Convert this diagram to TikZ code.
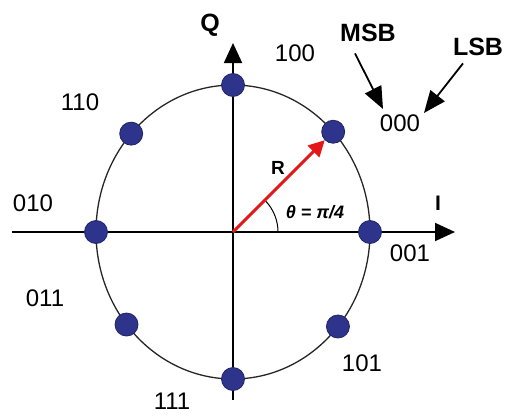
\documentclass[tikz,border=0pt]{standalone}
\usepackage{fontspec}
\setmainfont{Liberation Sans}
\usetikzlibrary{arrows.meta,calc}
\definecolor{symblue}{RGB}{46,52,140}
\definecolor{vecred}{RGB}{228,24,24}
\tikzset{
  axisline/.style={line width=1.8pt,-{Triangle[length=20pt,width=18pt]}},
  sym/.style={circle,fill=symblue,draw=symblue!70!black,line width=0.8pt,minimum size=23pt,inner sep=0pt},
  bits/.style={font=\fontsize{24}{28}\selectfont},
  tag/.style={font=\fontsize{25}{30}\selectfont\bfseries},
  bitarrow/.style={line width=1.8pt,-{Triangle[length=22pt,width=18pt]}},
  rvec/.style={vecred,line width=3pt,-{Triangle[length=16pt,width=16pt]}}
}

\begin{document}
\begin{tikzpicture}[x=1pt,y=1pt]
  \useasboundingbox (-233,-184) rectangle (276,232);
  \def\rx{137} % ellipse x radius
  \def\ry{147} % ellipse y radius
  % --- circle of the constellation ---
  \coordinate (o) at (0,0);
  \draw[line width=1.3pt,black!85] (o) ellipse[x radius=\rx,y radius=\ry];
  % --- I and Q axes ---
  \coordinate (iL) at (-221,0);
  \coordinate (iR) at (222,0);
  \coordinate (qB) at (0,-168);
  \coordinate (qT) at (0,189);
  \draw[axisline] (iL) -- (iR);
  \draw[axisline] (qB) -- (qT);
  \node[tag] (qlab) at (-23,207) {Q};
  \node[font=\fontsize{21}{25}\selectfont\bfseries] (ilab) at (205,29) {I};
  % --- symbol points ---
  \foreach \n/\t in {e/0,ne/43,n/90,nw/138,w/180,sw/219,s/270,se/320}{%
    \node[sym] (\n) at (\t:\rx\space and \ry) {};}
  % --- vector R and angle ---
  \draw[rvec] (o) -- (ne);
  \draw[line width=1pt] (45,0) arc[start angle=0,end angle=43,radius=45];
  \node[font=\fontsize{19}{23}\selectfont\bfseries] (rlab) at (45,64) {R};
  \node[font=\fontsize{18}{22}\selectfont\bfseries\itshape] (thlab) at (82,20) {θ = π/4};
  % --- bit labels ---
  \foreach \lab/\px/\py in {100/62/179, 110/-153/130, 010/-200/29, 001/177/-21,
        011/-188/-66, 101/129/-131, 111/-61/-169}{%
    \node[bits] (b\lab) at (\px,\py) {\lab};}
  % --- MSB / LSB key ---
  \node[bits] (code) at (167,109) {000};
  \node[tag] (msb) at (135,199) {MSB};
  \node[tag] (lsb) at (245,185) {LSB};
  \draw[bitarrow] ([xshift=-13pt,yshift=-8pt]msb.south) -- ([xshift=-17pt,yshift=2pt]code.north);
  \draw[bitarrow] ([xshift=-15pt,yshift=-4pt]lsb.south) -- ([xshift=24pt,yshift=-2pt]code.north);
\end{tikzpicture}
\end{document}
